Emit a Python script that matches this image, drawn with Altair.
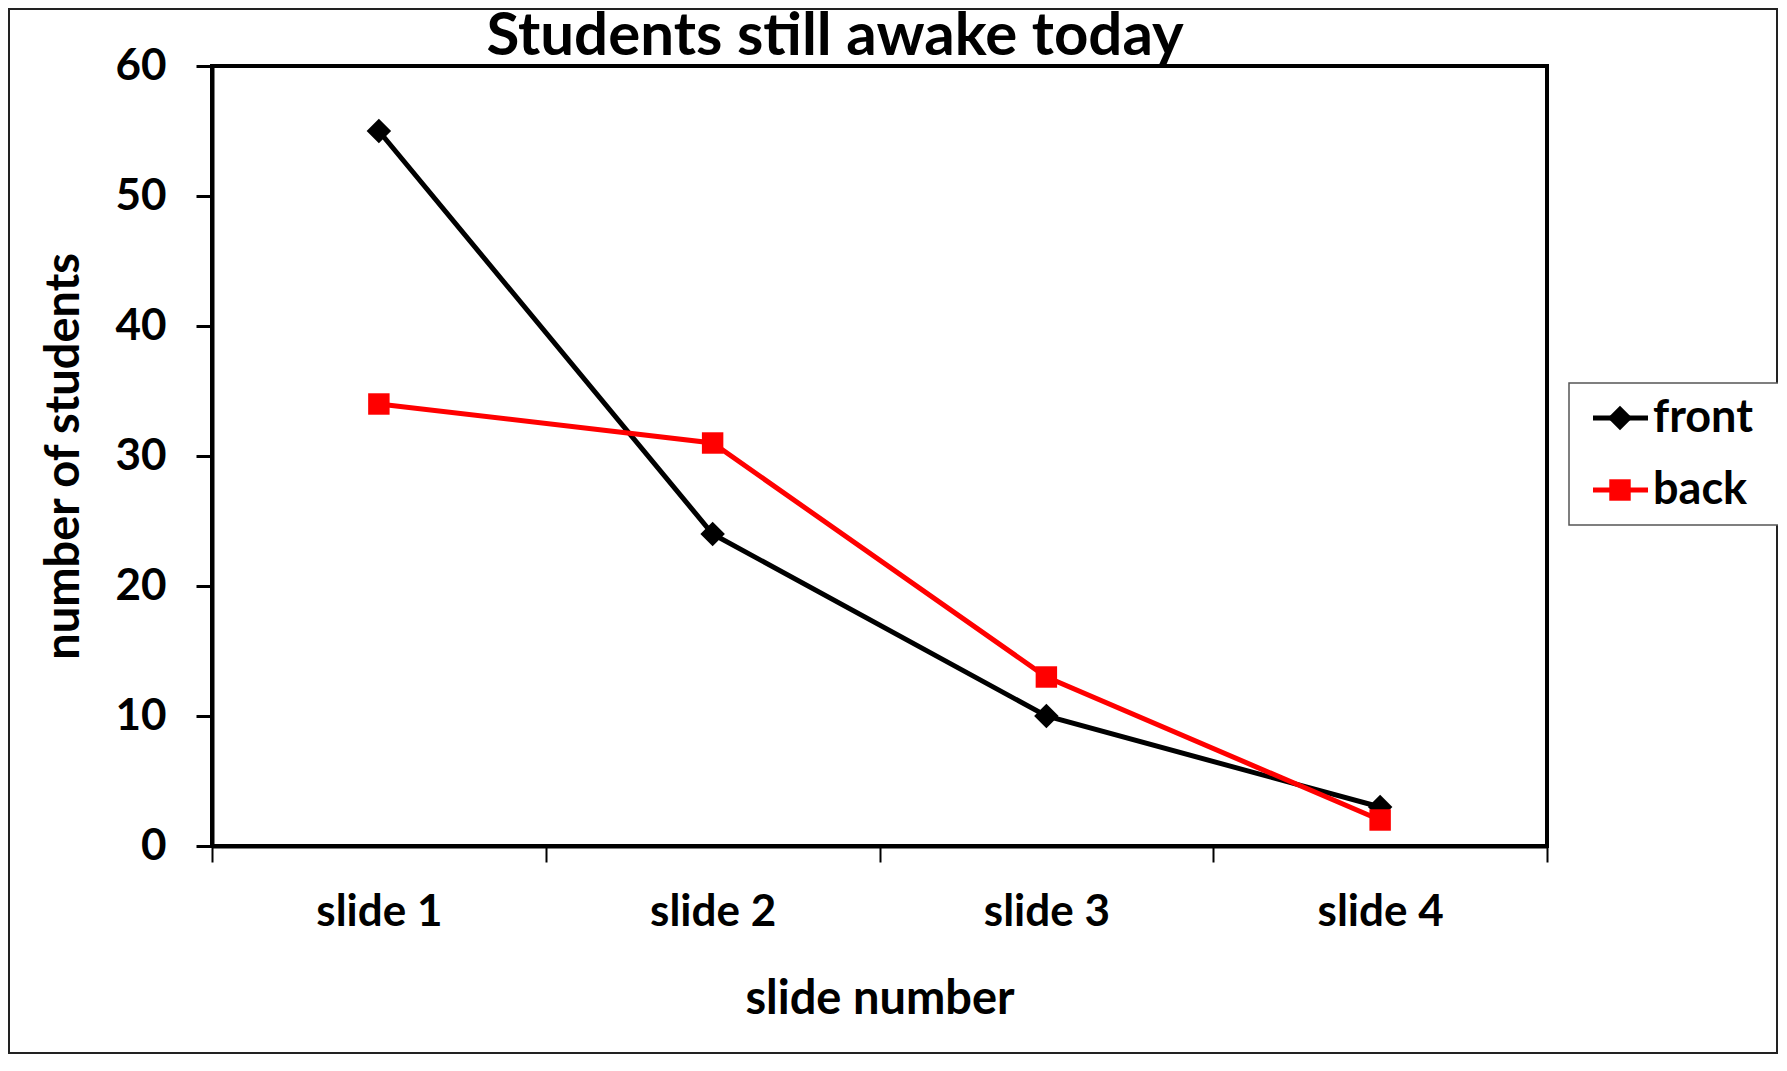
import altair as alt
import pandas as pd

chart_title = "Students still awake today"
slides = ["slide 1", "slide 2", "slide 3", "slide 4"]
series_names = ["front", "back"]
front_values = [55, 24, 10, 3]
back_values = [34, 31, 13, 2]
y_ticks = [0, 10, 20, 30, 40, 50, 60]
colors = ["#000000", "#FF0000"]
shapes = ["diamond", "square"]

rows = []
for s, v in zip(slides, front_values):
    rows.append({"slide": s, "series": "front", "students": v})
for s, v in zip(slides, back_values):
    rows.append({"slide": s, "series": "back", "students": v})
df = pd.DataFrame(rows)
legend_df = pd.DataFrame({"series": series_names})
one = pd.DataFrame({"k": [0]})
title_df = pd.DataFrame({"t": [chart_title]})

FONT = "Lato"
W, H = 1335, 780

x_enc = alt.X(
    "slide:N",
    sort=slides,
    scale=alt.Scale(type="band", paddingInner=0, paddingOuter=0),
    axis=alt.Axis(
        title="slide number", labelAngle=0, tickBand="extent",
        tickSize=16, tickWidth=2, tickColor="black",
        domainWidth=4, domainColor="black",
        labelFont=FONT, labelFontSize=44, labelFontWeight="bold", labelColor="black",
        labelPadding=28,
        titleFont=FONT, titleFontSize=47, titleFontWeight="bold", titleColor="black",
        titlePadding=42,
    ),
)
y_enc = alt.Y(
    "students:Q",
    scale=alt.Scale(domain=[0, 60], nice=False),
    axis=alt.Axis(
        title="number of students", values=y_ticks, grid=False,
        tickSize=16, tickWidth=3, tickColor="black",
        domainWidth=4, domainColor="black",
        labelFont=FONT, labelFontSize=44, labelFontWeight="bold", labelColor="black",
        labelPadding=30,
        titleFont=FONT, titleFontSize=47, titleFontWeight="bold", titleColor="black",
        titlePadding=26,
    ),
)
color_enc = alt.Color("series:N", scale=alt.Scale(domain=series_names, range=colors), legend=None)
shape_enc = alt.Shape("series:N", scale=alt.Scale(domain=series_names, range=shapes), legend=None)
size_enc = alt.Size("series:N", scale=alt.Scale(domain=series_names, range=[600, 460]), legend=None)

lines = alt.Chart(df).mark_line(strokeWidth=5).encode(
    x=x_enc, y=y_enc, color=color_enc, detail="series:N", order=alt.Order("slide:N")
)
points = alt.Chart(df).mark_point(filled=True, opacity=1).encode(
    x=x_enc, y=y_enc, color=color_enc, shape=shape_enc, size=size_enc,
)
main = alt.layer(lines, points)

leg_y = alt.Y("series:N", scale=alt.Scale(type="point", domain=series_names, range=[352, 424], padding=0), axis=None)
leg_box = alt.Chart(one).mark_rect(fill="white", stroke="#555555", strokeWidth=1.5).encode(
    x=alt.value(1357), x2=alt.value(1568), y=alt.value(317), y2=alt.value(459)
)
outer = alt.Chart(one).mark_rect(fill=None, stroke="#222222", strokeWidth=2).encode(
    x=alt.value(-203), x2=alt.value(1565), y=alt.value(-57), y2=alt.value(987)
)
title_mark = alt.Chart(title_df).mark_text(
    align="center", baseline="alphabetic", font=FONT, fontSize=60, fontWeight="bold", color="black"
).encode(x=alt.value(623), y=alt.value(-11), text="t:N")
leg_rule = alt.Chart(legend_df).mark_rule(strokeWidth=5).encode(
    x=alt.value(1381), x2=alt.value(1436), y=leg_y, color=color_enc
)
leg_pt = alt.Chart(legend_df).mark_point(filled=True, opacity=1).encode(
    x=alt.value(1408), y=leg_y, color=color_enc, shape=shape_enc, size=size_enc
)
leg_txt = alt.Chart(legend_df).mark_text(
    align="left", baseline="middle", font=FONT, fontSize=45, fontWeight="bold", color="black"
).encode(x=alt.value(1441), y=leg_y, text="series:N")
legend = alt.layer(leg_box, leg_rule, leg_pt, leg_txt)

chart = alt.layer(outer, title_mark, main, legend).resolve_scale(y="independent").properties(
    width=W, height=H,
    autosize=alt.AutoSizeParams(type="none"),
    padding={"left": 204, "top": 58, "right": 231, "bottom": 209},
).configure_view(stroke="black", strokeWidth=4)

chart.save("out.html", embed_options={"renderer": "svg", "actions": False})
